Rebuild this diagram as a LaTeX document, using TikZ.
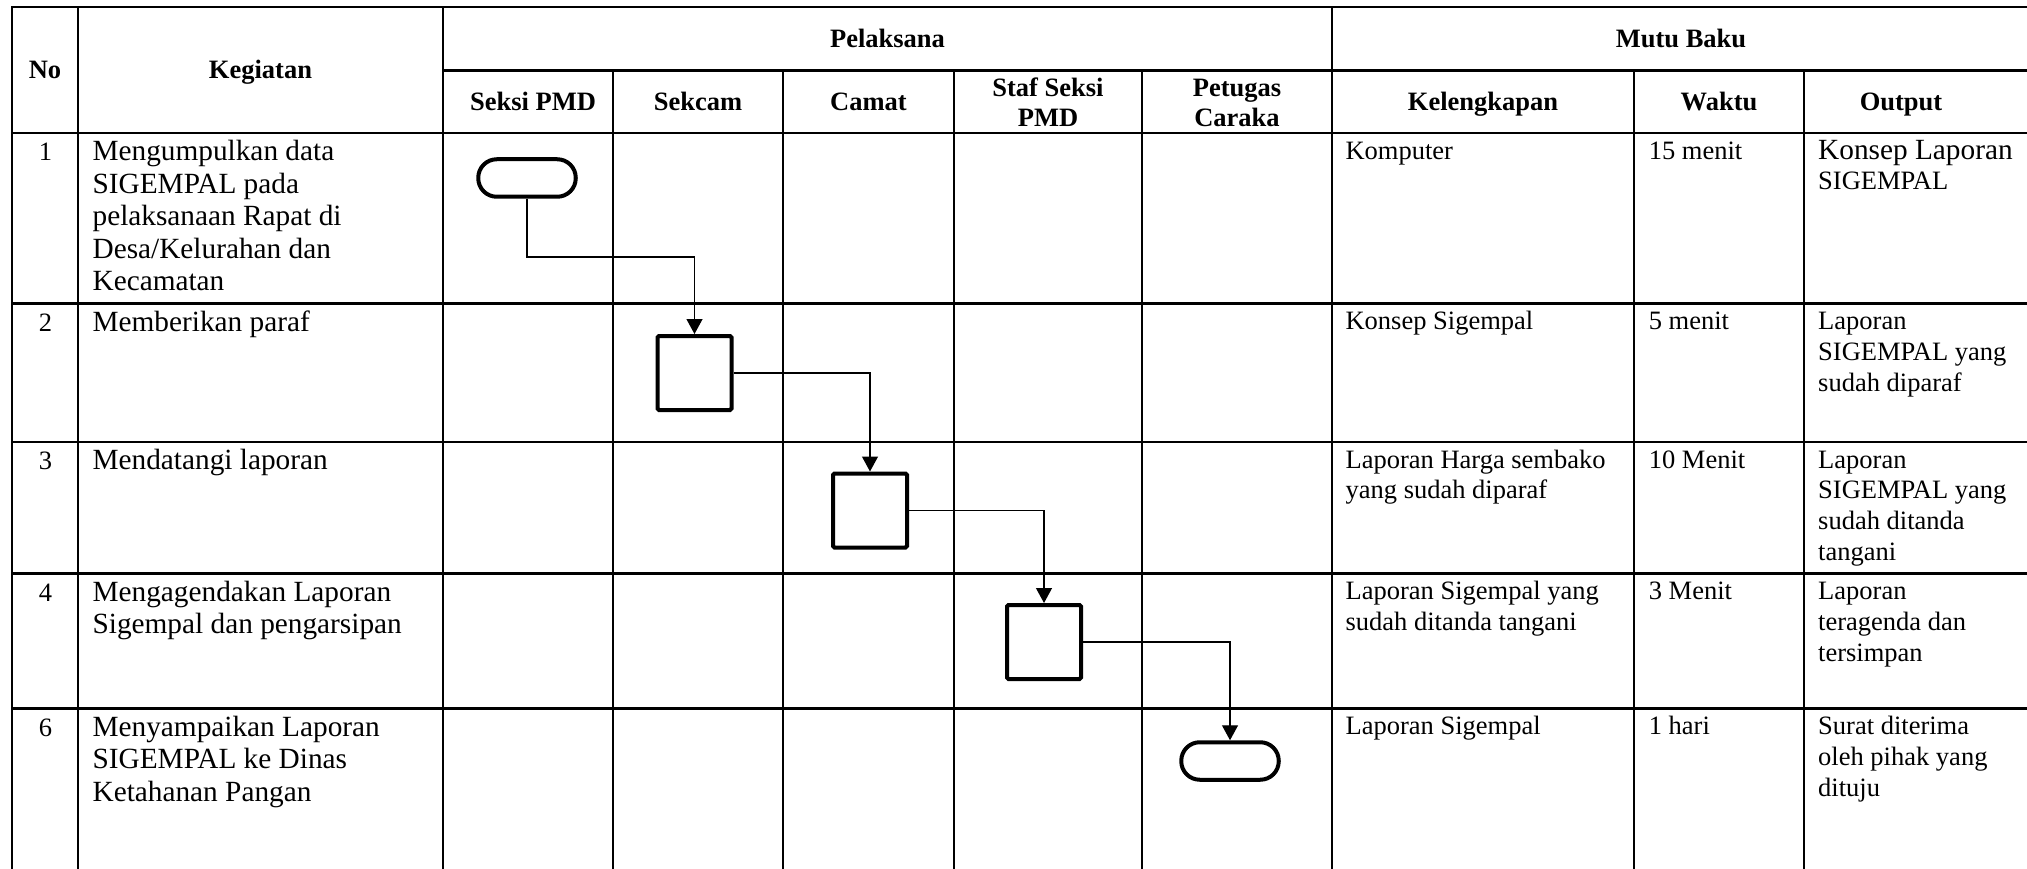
\documentclass[tikz,border=0pt]{standalone}
\usepackage{fontspec}
\setmainfont{Liberation Serif}
\usetikzlibrary{arrows.meta}
\newcommand\fA{\fontsize{29.3}{32.5}\selectfont}
\newcommand\fB{\fontsize{26.5}{30.7}\selectfont}
\begin{document}
\begin{tikzpicture}[x=1pt,y=-1pt,
  tline/.style={line width=2.6pt, line cap=rect},
  term/.style={draw, line width=4pt, minimum width=97.5pt, minimum height=37.5pt, rounded corners=18.5pt, inner sep=0pt},
  proc/.style={draw, line width=4pt, minimum width=74pt, minimum height=74pt, rounded corners=1.5pt, inner sep=0pt},
  flow/.style={line width=1.3pt, -{Triangle[width=16pt,length=15pt]}},
  hd/.style={font=\fB\bfseries, anchor=base, inner sep=0pt},
  hdd/.style={font=\fB\bfseries, anchor=north, align=center, inner sep=0pt},
  ka/.style={font=\fA, anchor=north west, align=left, inner sep=0pt},
  kb/.style={font=\fB, anchor=north west, align=left, inner sep=0pt},
  num/.style={font=\fB, anchor=base, inner sep=0pt}]
\useasboundingbox (0,0) rectangle (2027,869);
\begin{scope}
\clip (0,0) rectangle (2027,869);
% horizontal lines
\draw[tline] (12,7) -- (2045,7);
\draw[tline] (443,70.7) -- (2045,70.7);
\foreach \yy in {133,303.5,442,573.5,708.5}
  \draw[tline] (12,\yy) -- (2045,\yy);
% vertical lines
\foreach \xx in {12,78,443,1332}
  \draw[tline] (\xx,7) -- (\xx,890);
\foreach \xx in {613,783,954,1142,1634,1804}
  \draw[tline] (\xx,70.7) -- (\xx,890);
\end{scope}
% headers
\node[hd] (hNo) at (45,78.5) {No};
\node[hd] (hKeg) at (260.5,78.5) {Kegiatan};
\node[hd] (hPel) at (887.5,48) {Pelaksana};
\node[hd] (hMutu) at (1681,48) {Mutu Baku};
\node[hd] (hS1) at (533,110.6) {Seksi PMD};
\node[hd] (hS2) at (698,110.6) {Sekcam};
\node[hd] (hS3) at (868.5,110.6) {Camat};
\node[hdd] (hS4) at (1048,74.5) {\strut Staf Seksi\\PMD};
\node[hdd] (hS5) at (1237,74.5) {\strut Petugas\\Caraka};
\node[hd] (hKel) at (1483,110.6) {Kelengkapan};
\node[hd] (hWak) at (1719,110.6) {Waktu};
\node[hd] (hOut) at (1901,110.6) {Output};
% row 1
\node[num] (n1) at (45.5,160.5) {1};
\node[ka] (k1) at (92.4,137.75) {\strut Mengumpulkan data\\SIGEMPAL pada\\pelaksanaan Rapat di\\Desa/Kelurahan dan\\Kecamatan};
\node[kb] (l1) at (1345.4,137.5) {\strut Komputer};
\node[kb] (w1) at (1648.6,137.5) {\strut 15 menit};
\node[kb] (o1) at (1818,136.25) {{\fA\strut Konsep Laporan}\\SIGEMPAL};
% row 2
\node[num] (n2) at (45.5,331) {2};
\node[ka] (k2) at (92.4,308.25) {\strut Memberikan paraf};
\node[kb] (l2) at (1345.4,308) {\strut Konsep Sigempal};
\node[kb] (w2) at (1648.6,308) {\strut 5 menit};
\node[kb] (o2) at (1818,308) {\strut Laporan\\SIGEMPAL yang\\sudah diparaf};
% row 3
\node[num] (n3) at (45.5,469.5) {3};
\node[ka] (k3) at (92.4,446.75) {\strut Mendatangi laporan};
\node[kb] (l3) at (1345.4,446.5) {\strut Laporan Harga sembako\\yang sudah diparaf};
\node[kb] (w3) at (1648.6,446.5) {\strut 10 Menit};
\node[kb] (o3) at (1818,446.5) {\strut Laporan\\SIGEMPAL yang\\sudah ditanda\\tangani};
% row 4
\node[num] (n4) at (45.5,601) {4};
\node[ka] (k4) at (92.4,578.25) {\strut Mengagendakan Laporan\\Sigempal dan pengarsipan};
\node[kb] (l4) at (1345.4,578) {\strut Laporan Sigempal yang\\sudah ditanda tangani};
\node[kb] (w4) at (1648.6,578) {\strut 3 Menit};
\node[kb] (o4) at (1818,578) {\strut Laporan\\teragenda dan\\tersimpan};
% row 6
\node[num] (n6) at (45.5,736) {6};
\node[ka] (k6) at (92.4,713.25) {\strut Menyampaikan Laporan\\SIGEMPAL ke Dinas\\Ketahanan Pangan};
\node[kb] (l6) at (1345.4,713) {\strut Laporan Sigempal};
\node[kb] (w6) at (1648.6,713) {\strut 1 hari};
\node[kb] (o6) at (1818,713) {\strut Surat diterima\\oleh pihak yang\\dituju};
% flow shapes
\node[term] (t1) at (527,178) {};
\node[proc] (b2) at (694.5,373) {};
\node[proc] (b3) at (870,510.5) {};
\node[proc] (b4) at (1044,642) {};
\node[term] (t5) at (1230,761) {};
\coordinate (e1) at (527,257);
\draw[flow] (t1.south) -- (e1) -| (b2.north);
\draw[flow] (b2.east) -| (b3.north);
\draw[flow] (b3.east) -| (b4.north);
\draw[flow] (b4.east) -| (t5.north);
\end{tikzpicture}
\end{document}
